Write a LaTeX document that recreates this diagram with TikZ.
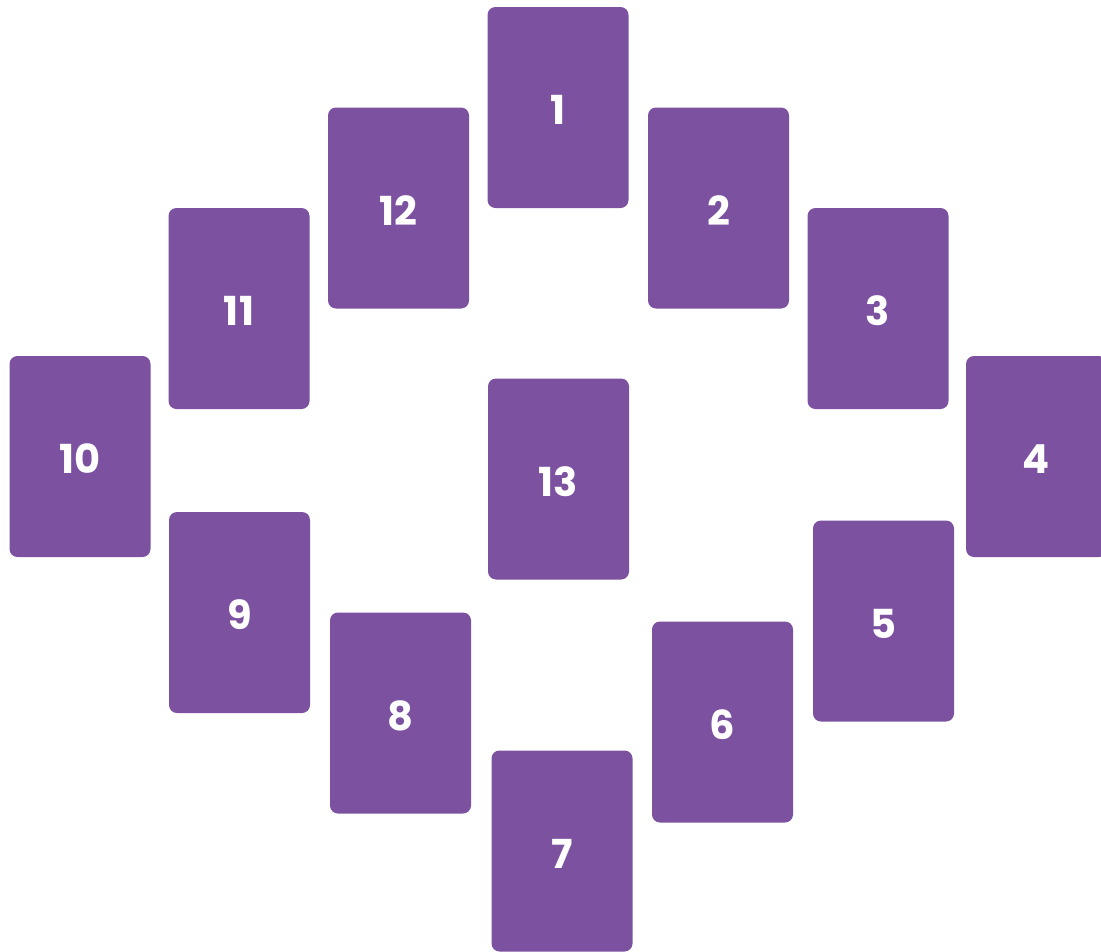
\documentclass[tikz,border=0pt]{standalone}
\usepackage{fontspec}
\setmainfont{Poppins}
\definecolor{cardpurple}{RGB}{123,81,160}
\begin{document}
\begin{tikzpicture}[x=1pt,y=-1pt,
  card/.style={fill=cardpurple, draw=none, rounded corners=8pt, minimum width=141pt, minimum height=201pt, inner sep=0pt,
    label={[cardtext]center:#1}},
  cardtext/.style={text=white, inner sep=0pt, yshift=-2.5pt, font=\fontsize{40}{40}\selectfont\bfseries}]
\useasboundingbox (0,0) rectangle (1101,951);
\clip (0,0) rectangle (1101,951);
\node[card=1] (c1) at (558,107.5) {};
\node[card=2] (c2) at (718.5,208) {};
\node[card=3] (c3) at (878,308.5) {};
\node[card=4] (c4) at (1036.5,456.5) {};
\node[card=5] (c5) at (883.5,621) {};
\node[card=6] (c6) at (722.5,722) {};
\node[card=7] (c7) at (562,851) {};
\node[card=8] (c8) at (400.5,713) {};
\node[card=9] (c9) at (239.5,612.5) {};
\node[card=10] (c10) at (80,456.5) {};
\node[card=11] (c11) at (239,308.5) {};
\node[card=12] (c12) at (398.5,208) {};
\node[card=13] (c13) at (558.5,479) {};
\end{tikzpicture}
\end{document}
